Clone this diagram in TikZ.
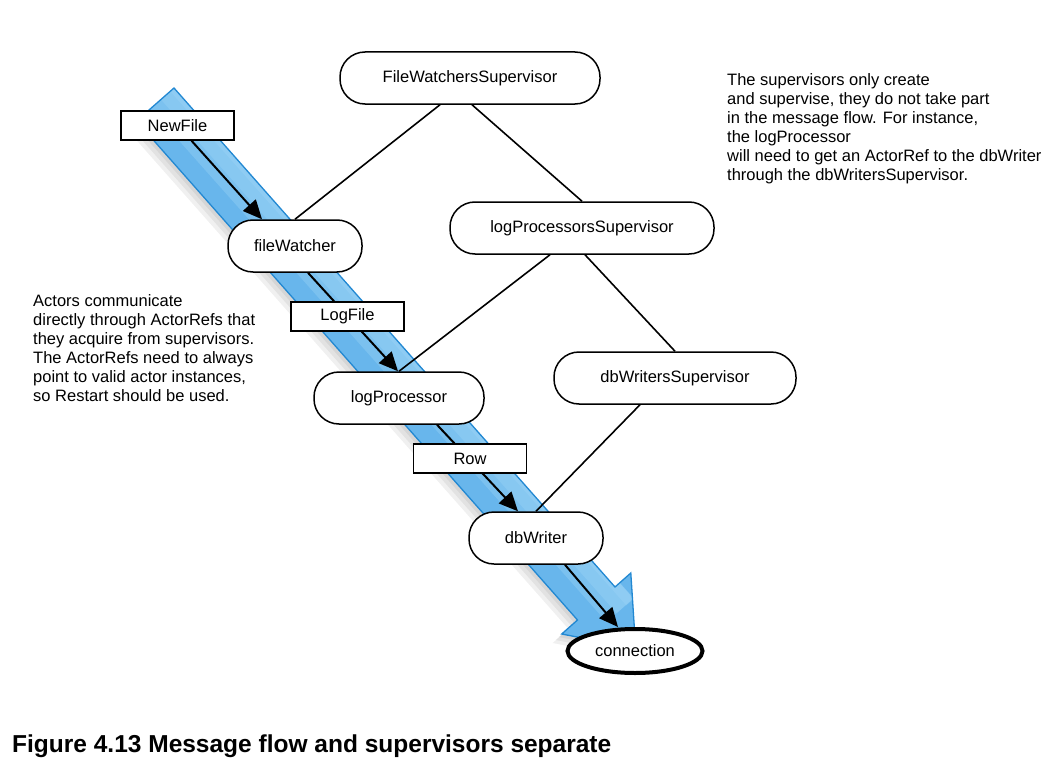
\documentclass[tikz,border=0pt]{standalone}
\usepackage{fontspec}
\setmainfont{Liberation Sans}
\usetikzlibrary{arrows.meta,shapes.geometric}
\definecolor{bandfill}{RGB}{104,182,236}
\definecolor{bandlight}{RGB}{160,214,247}
\definecolor{bandedge}{RGB}{34,136,210}
\newcommand{\flowbandshape}{(174,88) -- (136.5,121) -- (577.5,620) -- (561.7,634) -- (635.7,648.5) -- (630.8,573) -- (615,587) -- cycle}
\tikzset{
  actor/.style={draw, line width=1.5pt, fill=white, rounded corners=25pt,
    minimum height=52pt, inner sep=0pt, font=\fontsize{16.5}{19}\selectfont},
  msgbox/.style={draw, line width=1.4pt, fill=white, minimum width=113pt,
    minimum height=29pt, inner sep=0pt, font=\fontsize{16.5}{19}\selectfont},
  endpoint/.style={draw, ellipse, line width=4pt, fill=white, minimum width=135pt,
    minimum height=44pt, inner sep=0pt, font=\fontsize{16.5}{19}\selectfont},
  link/.style={line width=1.6pt},
  flow/.style={line width=2pt, -{Triangle[length=19pt,width=17pt]}},
  note/.style={align=left, inner sep=0pt, anchor=north west,
    font=\fontsize{16.5}{19}\selectfont},
  bandshadow/.style={fill=black, opacity=0.06},
  bandglow/.style={bandlight, opacity=0.35, line cap=butt},
  band/.style={draw=bandedge, line width=1.3pt, line join=miter}
}
\begin{document}
\begin{tikzpicture}[x=1pt,y=-1pt]
\useasboundingbox (0,0) rectangle (1058,776);
% soft shadow of the flow band
\fill[bandshadow, shift={(-3,3)}] \flowbandshape;
\fill[bandshadow, shift={(-6,6)}] \flowbandshape;
\fill[bandshadow, shift={(-9,9)}] \flowbandshape;
% the flow band, lighter towards its upper right side
\fill[bandfill] \flowbandshape;
\begin{scope}
  \clip \flowbandshape;
  \draw[bandglow, line width=36pt] (164,96.6) -- (620,610);
  \draw[bandglow, line width=22pt] (169,92) -- (625,606);
  \draw[bandglow, line width=10pt] (174,88) -- (630,602);
\end{scope}
\draw[band] \flowbandshape;

% nodes
\node[actor, minimum width=260pt] (fws) at (470,78) {FileWatchersSupervisor};
\node[actor, minimum width=134pt] (fw) at (295,246) {fileWatcher};
\node[actor, minimum width=264pt] (lps) at (582,228) {logProcessorsSupervisor};
\node[actor, minimum width=170pt] (lp) at (399,398) {logProcessor};
\node[actor, minimum width=242pt] (dws) at (675,378) {dbWritersSupervisor};
\node[actor, minimum width=134pt] (dbw) at (536,538) {dbWriter};
\node[endpoint] (conn) at (635,651) {connection};
\node[msgbox] (nf) at (177.5,125.5) {NewFile};

% message arrows (drawn behind the label boxes)
\draw[flow] ([xshift=14pt]nf.south) -- ([xshift=-33pt]fw.north);
\draw[flow] ([xshift=13pt]fw.south) -- ([xshift=-1pt]lp.north);
\draw[flow] ([xshift=38pt]lp.south) -- ([xshift=-18pt]dbw.north);
\draw[flow] ([xshift=29pt]dbw.south) -- ([xshift=-17pt]conn.north);

% message labels over the arrows
\node[msgbox] (lf) at (347.5,316.5) {LogFile};
\node[msgbox] (row) at (470,458.5) {Row};

% supervision links
\draw[link] ([xshift=-30pt]fws.south) -- (fw.north);
\draw[link] ([xshift=2pt]fws.south) -- (lps.north);
\draw[link] ([xshift=-32pt]lps.south) -- (lp.north);
\draw[link] ([xshift=3pt]lps.south) -- (dws.north);
\draw[link] ([xshift=-35pt]dws.south) -- (dbw.north);

% notes
\node[note] (noteR) at (727,73.5) {The supervisors only create\\and supervise, they do not take part\\in the message flow. For instance,\\the logProcessor\\will need to get an ActorRef to the dbWriter\\through the dbWritersSupervisor.};
\node[note] (noteL) at (33,294) {Actors communicate\\directly through ActorRefs that\\they acquire from supervisors.\\The ActorRefs need to always\\point to valid actor instances,\\so Restart should be used.};

% caption
\node[anchor=base west, inner sep=0pt, font=\bfseries\fontsize{24.5}{28}\selectfont] (cap) at (12,752) {Figure 4.13 Message flow and supervisors separate};
\end{tikzpicture}
\end{document}
